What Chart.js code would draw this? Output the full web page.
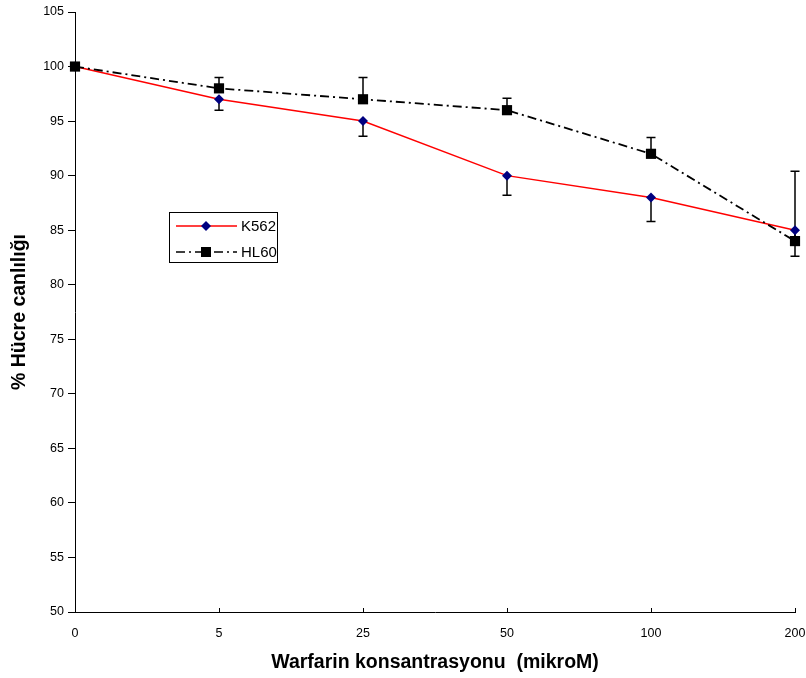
<!DOCTYPE html>
<html>
<head>
<meta charset="utf-8">
<script src="https://cdn.jsdelivr.net/npm/chart.js@4.4.1/dist/chart.umd.min.js"></script>
<style>
  html, body { margin: 0; padding: 0; background: #fff; }
</style>
</head>
<body>
<canvas id="myChart" width="806" height="678"></canvas>
<script>
// concentrations (mikroM) and viability (%) per cell line
var concentrations = ["0", "5", "25", "50", "100", "200"];
var k562 = [100, 97, 95, 90, 88, 85];
var hl60 = [100, 98, 97, 96, 92, 84];
// K562 shows the minus error, HL60 the plus error
var k562ErrMinus = [0, 1, 1.4, 1.8, 2.2, 2.4];
var hl60ErrPlus = [0, 1, 2, 1.1, 1.5, 6.4];
var yTicks = [50, 55, 60, 65, 70, 75, 80, 85, 90, 95, 100, 105];

var FONT = "'Liberation Sans', Arial, sans-serif";
var HL60_DASH = [9, 4, 2, 4];

// vertical error bars with caps, under the markers
var errorBars = {
  id: "errorBars",
  beforeDatasetsDraw: function (chart) {
    var ctx = chart.ctx;
    var x = chart.scales.x, y = chart.scales.y;
    ctx.save();
    ctx.strokeStyle = "#000";
    ctx.lineWidth = 1.5;
    function bar(i, from, to) {
      if (from === to) return;
      var px = x.getPixelForValue(i);
      var y1 = y.getPixelForValue(from), y2 = y.getPixelForValue(to);
      ctx.beginPath();
      ctx.moveTo(px, y1); ctx.lineTo(px, y2);
      ctx.moveTo(px - 4.5, y2); ctx.lineTo(px + 4.5, y2);
      ctx.stroke();
    }
    for (var i = 0; i < concentrations.length; i++) {
      bar(i, k562[i], k562[i] - k562ErrMinus[i]);
      bar(i, hl60[i], hl60[i] + hl60ErrPlus[i]);
    }
    ctx.restore();
  }
};

// short inward tick marks on the x axis
var innerTicks = {
  id: "innerTicks",
  afterDraw: function (chart) {
    var ctx = chart.ctx, x = chart.scales.x, bottom = chart.chartArea.bottom;
    ctx.save();
    ctx.strokeStyle = "#000";
    ctx.lineWidth = 1;
    for (var i = 1; i < concentrations.length; i++) {
      var px = Math.round(x.getPixelForTick(i)) + 0.5;
      ctx.beginPath();
      ctx.moveTo(px, bottom);
      ctx.lineTo(px, bottom - 4);
      ctx.stroke();
    }
    ctx.restore();
  }
};

// boxed legend inside the plot
var boxLegend = {
  id: "boxLegend",
  afterDraw: function (chart) {
    var ctx = chart.ctx;
    var bx = 169, by = 212, bw = 108, bh = 50;
    ctx.save();
    ctx.fillStyle = "#fff";
    ctx.fillRect(bx, by, bw, bh);
    ctx.strokeStyle = "#000";
    ctx.lineWidth = 1;
    ctx.strokeRect(bx + 0.5, by + 0.5, bw, bh);
    var rows = [
      { label: "K562", color: "#ff0000", dash: [], marker: "diamond", y: by + 14 },
      { label: "HL60", color: "#000000", dash: HL60_DASH, marker: "square", y: by + 40 }
    ];
    rows.forEach(function (r) {
      ctx.strokeStyle = r.color;
      ctx.lineWidth = 1.5;
      ctx.setLineDash(r.dash);
      ctx.beginPath();
      ctx.moveTo(bx + 7, r.y);
      ctx.lineTo(bx + 68, r.y);
      ctx.stroke();
      ctx.setLineDash([]);
      var cx = bx + 37;
      if (r.marker === "diamond") {
        ctx.fillStyle = "#000080";
        ctx.beginPath();
        ctx.moveTo(cx, r.y - 5); ctx.lineTo(cx + 5, r.y);
        ctx.lineTo(cx, r.y + 5); ctx.lineTo(cx - 5, r.y);
        ctx.closePath();
        ctx.fill();
      } else {
        ctx.fillStyle = "#000";
        ctx.fillRect(cx - 5, r.y - 5, 10, 10);
      }
      ctx.fillStyle = "#000";
      ctx.font = "15px " + FONT;
      ctx.textBaseline = "middle";
      ctx.textAlign = "left";
      ctx.fillText(r.label, bx + 72, r.y + 1);
    });
    ctx.restore();
  }
};

var ctx = document.getElementById("myChart").getContext("2d");
var myChart = new Chart(ctx, {
  type: "line",
  data: {
    labels: concentrations,
    datasets: [
      {
        label: "K562",
        data: k562,
        borderColor: "#ff0000",
        borderWidth: 1.5,
        pointStyle: "rectRot",
        pointRadius: 5,
        pointBackgroundColor: "#000080",
        pointBorderColor: "#000080",
        pointBorderWidth: 0,
        tension: 0,
        order: 2
      },
      {
        label: "HL60",
        data: hl60,
        borderColor: "#000000",
        borderWidth: 1.8,
        borderDash: HL60_DASH,
        pointStyle: "rect",
        pointRadius: 7.2,
        pointBackgroundColor: "#000",
        pointBorderColor: "#000",
        pointBorderWidth: 0,
        tension: 0,
        order: 1
      }
    ]
  },
  options: {
    responsive: false,
    animation: false,
    events: [],
    clip: false,
    layout: { padding: { left: 0, top: 12, right: 0, bottom: 0 } },
    plugins: {
      legend: { display: false },
      tooltip: { enabled: false }
    },
    scales: {
      x: {
        type: "category",
        offset: false,
        grid: { display: true, drawOnChartArea: false, drawTicks: false, color: "#000" },
        border: { display: true, color: "#000", width: 1 },
        ticks: { color: "#000", font: { family: FONT, size: 12.5 }, padding: 14, maxRotation: 0, autoSkip: false },
        title: {
          display: true,
          text: "Warfarin konsantrasyonu  (mikroM)",
          color: "#000",
          font: { family: FONT, size: 19.5, weight: "bold" },
          padding: { top: 0, bottom: 4 }
        },
        afterFit: function (scale) {
          scale.height = 66;
          scale.paddingRight = 11;
        }
      },
      y: {
        min: 50,
        max: 105,
        afterBuildTicks: function (scale) {
          scale.ticks = yTicks.map(function (v) { return { value: v }; });
        },
        grid: { display: true, drawOnChartArea: false, drawTicks: true, tickLength: 7, color: "#000" },
        border: { display: true, color: "#000", width: 1 },
        ticks: { color: "#000", font: { family: FONT, size: 12.5 }, padding: 4 },
        title: {
          display: true,
          text: "% Hücre canlılığı",
          color: "#000",
          font: { family: FONT, size: 19.5, weight: "bold" },
          padding: { top: 8, bottom: 0 }
        },
        afterFit: function (scale) { scale.width = 75; }
      }
    }
  },
  plugins: [errorBars, innerTicks, boxLegend]
});
</script>
</body>
</html>
